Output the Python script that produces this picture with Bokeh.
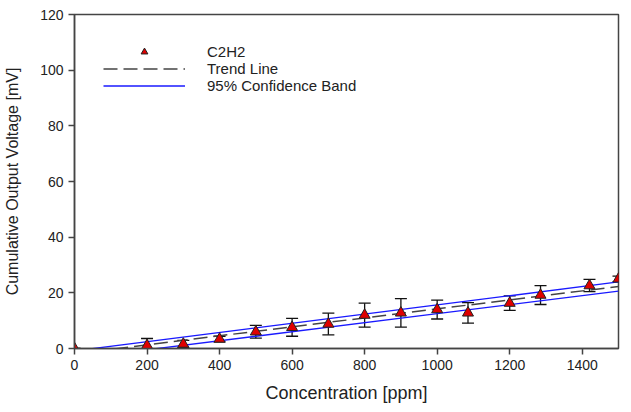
from bokeh.plotting import figure
from bokeh.models import (ColumnDataSource, Whisker, TeeHead, Legend, LegendItem,
                          Range1d, FixedTicker)
from bokeh.embed import file_html
from bokeh.resources import INLINE

# Measured sensor response (mean and standard deviation)
concentration = [0, 200, 300, 400, 500, 600, 700, 800, 900, 1000, 1085, 1200, 1285, 1420, 1500]
voltage = [0.0, 1.1, 1.6, 3.4, 6.0, 7.6, 8.8, 12.0, 12.8, 14.0, 12.8, 16.3, 19.2, 22.6, 25.0]
std_dev = [0.0, 2.5, 1.3, 1.0, 2.3, 3.2, 3.9, 4.3, 5.1, 3.4, 3.7, 2.6, 3.4, 2.2, 1.0]

# Linear trend and its 95% confidence band
trend_x = [0, 1500]
trend_y = [-1.9, 22.3]
band_x = [0, 500, 1000, 1500]
band_upper = [-0.86, 7.4, 15.65, 23.9]
band_lower = [-3.7, 4.4, 12.5, 20.6]

x_ticks = [0, 200, 400, 600, 800, 1000, 1200, 1400]
y_ticks = [0, 20, 40, 60, 80, 100, 120]

FONT = "Liberation Sans"

src = ColumnDataSource(dict(
    x=concentration,
    y=voltage,
    lo=[v - e for v, e in zip(voltage, std_dev)],
    hi=[v + e for v, e in zip(voltage, std_dev)],
))

p = figure(width=631, height=412, output_backend="svg", toolbar_location=None,
           x_range=Range1d(0, 1500), y_range=Range1d(0, 120),
           min_border_left=74, min_border_right=13, min_border_top=14, min_border_bottom=64)
p.frame_width = 544
p.frame_height = 334

p.grid.visible = False
p.outline_line_color = "#444444"
p.outline_line_width = 1.5
p.background_fill_color = "white"
p.border_fill_color = "white"

for ax in (p.xaxis[0], p.yaxis[0]):
    ax.axis_line_color = "#444444"
    ax.axis_line_width = 1.5
    ax.major_tick_line_color = "#444444"
    ax.major_tick_line_width = 1.5
    ax.major_tick_out = 6
    ax.major_tick_in = 0
    ax.minor_tick_line_color = None
    ax.major_label_text_font = FONT
    ax.major_label_text_font_size = "14px"
    ax.major_label_text_color = "#222222"
    ax.axis_label_text_font = FONT
    ax.axis_label_text_font_style = "normal"
    ax.axis_label_text_color = "#222222"

p.xaxis.ticker = FixedTicker(ticks=x_ticks)
p.yaxis.ticker = FixedTicker(ticks=y_ticks)
p.xaxis.axis_label = "Concentration [ppm]"
p.yaxis.axis_label = "Cumulative Output Voltage [mV]"
p.xaxis.axis_label_text_font_size = "18px"
p.yaxis.axis_label_text_font_size = "16px"
p.xaxis.axis_label_standoff = 10
p.yaxis.axis_label_standoff = 16

# Confidence band and trend line
r_up = p.line(band_x, band_upper, line_color="#1a1aff", line_width=1.3)
p.line(band_x, band_lower, line_color="#1a1aff", line_width=1.3)
r_trend = p.line(trend_x, trend_y, line_color="#444444", line_width=1.5, line_dash="14 6")

# Error bars
p.add_layout(Whisker(source=src, base="x", lower="lo", upper="hi",
                     line_color="#111111", line_width=1.3,
                     upper_head=TeeHead(size=12, line_color="#111111", line_width=1.3),
                     lower_head=TeeHead(size=12, line_color="#111111", line_width=1.3)))

r_pts = p.scatter("x", "y", source=src, marker="triangle", size=11,
                  fill_color="#e00000", line_color="#222222", line_width=1)

legend = Legend(items=[
    LegendItem(label="C2H2", renderers=[r_pts]),
    LegendItem(label="Trend Line", renderers=[r_trend]),
    LegendItem(label="95% Confidence Band", renderers=[r_up]),
], location="top_left")
legend.glyph_width = 82
legend.glyph_height = 17
legend.label_height = 17
legend.spacing = 0
legend.padding = 2
legend.margin = 29
legend.label_standoff = 22
legend.label_text_font = FONT
legend.label_text_font_size = "15px"
legend.label_text_color = "#222222"
legend.border_line_color = None
legend.background_fill_alpha = 0
p.add_layout(legend)

open("out.html", "w").write(file_html(p, INLINE))
